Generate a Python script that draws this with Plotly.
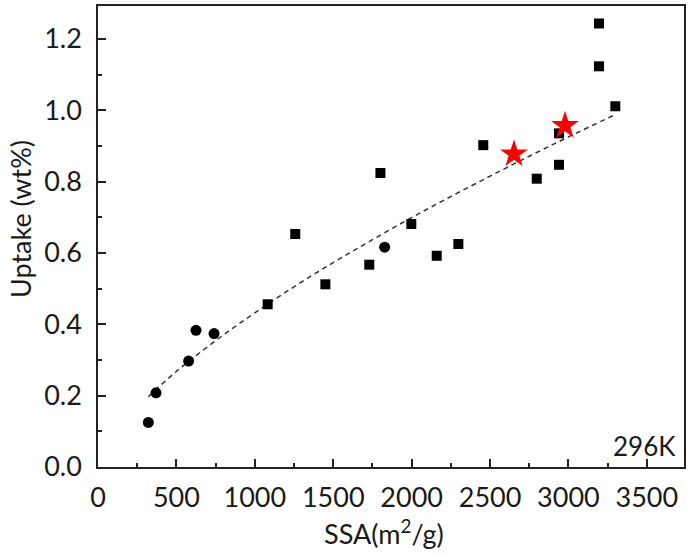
import plotly.graph_objects as go

# Circles
circ_x = [321, 370, 578, 625, 740, 1828]
circ_y = [0.125, 0.208, 0.297, 0.383, 0.374, 0.616]

# Squares
sq_x = [1082, 1258, 1450, 1730, 1801, 1998, 2160, 2298, 2457, 2798, 2940, 2940, 3195, 3195, 3299]
sq_y = [0.456, 0.653, 0.512, 0.567, 0.824, 0.681, 0.592, 0.625, 0.902, 0.808, 0.847, 0.935, 1.243, 1.123, 1.011]

# Red stars
star_x = [2653, 2978]
star_y = [0.877, 0.957]

# Dashed fit line
fit_x = [321, 500, 750, 1000, 1250, 1500, 1750, 2000, 2250, 2500, 2750, 3000, 3300]
fit_y = [0.197, 0.268, 0.354, 0.432, 0.505, 0.573, 0.637, 0.699, 0.758, 0.815, 0.871, 0.925, 0.988]

FONT = "Lato"
FS = 27

fig = go.Figure()
fig.add_trace(go.Scatter(x=fit_x, y=fit_y, mode="lines",
                         line=dict(color="#333333", width=1.5, dash="5px,4px", shape="spline"),
                         showlegend=False, hoverinfo="skip"))
fig.add_trace(go.Scatter(x=circ_x, y=circ_y, mode="markers",
                         marker=dict(symbol="circle", size=11, color="black"), showlegend=False))
fig.add_trace(go.Scatter(x=sq_x, y=sq_y, mode="markers",
                         marker=dict(symbol="square", size=10, color="black"), showlegend=False))
fig.add_trace(go.Scatter(x=star_x, y=star_y, mode="markers",
                         marker=dict(symbol="star", size=21, color="#ff0000"), showlegend=False))

axis_common = dict(showline=True, linecolor="#222222", linewidth=1.5, mirror=True,
                   ticks="inside", ticklen=8, tickwidth=1.5, tickcolor="#222222",
                   showgrid=False, zeroline=False, automargin=False,
                   tickfont=dict(family=FONT, size=FS, color="#1a1a1a"))

fig.update_xaxes(range=[0, 3737], dtick=500, tick0=0, ticklabelstandoff=6,
                 minor=dict(dtick=250, ticks="inside", ticklen=4, tickwidth=1.5, tickcolor="#222222"),
                 **axis_common)
fig.update_yaxes(range=[0, 1.292], dtick=0.2, tick0=0, tickformat=".1f", ticklabelstandoff=9,
                 minor=dict(dtick=0.1, ticks="inside", ticklen=4, tickwidth=1.5, tickcolor="#222222"),
                 **axis_common)

fig.add_annotation(text="SSA(m<sup>2</sup>/g)", xref="paper", yref="paper",
                   x=(384 - 98) / 586, y=-(532 - 467) / 461, xanchor="center", yanchor="middle",
                   showarrow=False, font=dict(family=FONT, size=FS, color="#1a1a1a"))
fig.add_annotation(text="Uptake (wt%)", xref="paper", yref="paper", textangle=-90,
                   x=(20 - 98) / 586, y=(467 - 219) / 461, xanchor="center", yanchor="middle",
                   showarrow=False, font=dict(family=FONT, size=FS, color="#1a1a1a"))
fig.add_annotation(text="296K", xref="paper", yref="paper",
                   x=(678 - 98) / 586, y=(467 - 446) / 461, xanchor="right", yanchor="middle",
                   showarrow=False, font=dict(family=FONT, size=FS - 1, color="#1a1a1a"))

fig.update_layout(width=691, height=557, autosize=False,
                  margin=dict(l=98, r=7, t=6, b=90),
                  plot_bgcolor="white", paper_bgcolor="white")

fig.write_html("out.html", config={"displayModeBar": False},
               post_script="document.body.style.margin='0';")
